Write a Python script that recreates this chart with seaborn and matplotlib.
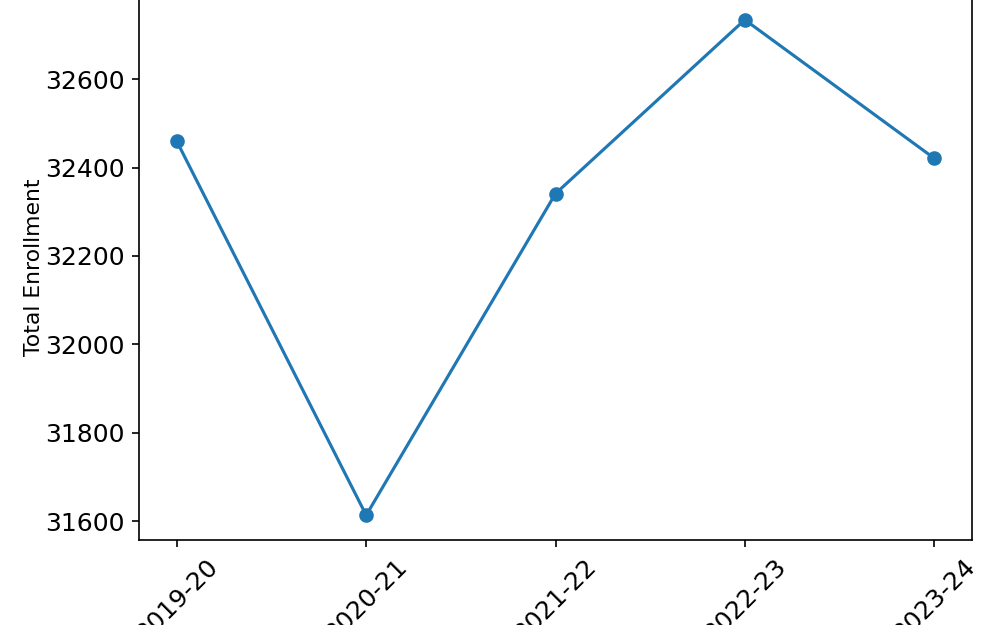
import matplotlib
matplotlib.use("Agg")
import matplotlib.pyplot as plt
import pandas as pd
import seaborn as sns

years = ["2019-20", "2020-21", "2021-22", "2022-23", "2023-24"]
enrollment = [32459, 31614, 32341, 32734, 32421]

df = pd.DataFrame({"year": years, "enrollment": enrollment})

fig = plt.figure(figsize=(1000 / 150, 625 / 150), dpi=150)
ax = fig.add_axes([0.139, 0.136, 0.833, 0.872])

sns.lineplot(
    data=df,
    x="year",
    y="enrollment",
    marker="o",
    color="#1f77b4",
    markersize=6,
    markeredgecolor="#1f77b4",
    markeredgewidth=1,
    linewidth=1.5,
    ax=ax,
)
ax.set_xlabel("")
ax.set_ylabel("Total Enrollment", fontsize=10.5, labelpad=0.5)
ax.tick_params(labelsize=12)
plt.setp(ax.get_xticklabels(), rotation=45)

fig.savefig("out.png", dpi=150)
